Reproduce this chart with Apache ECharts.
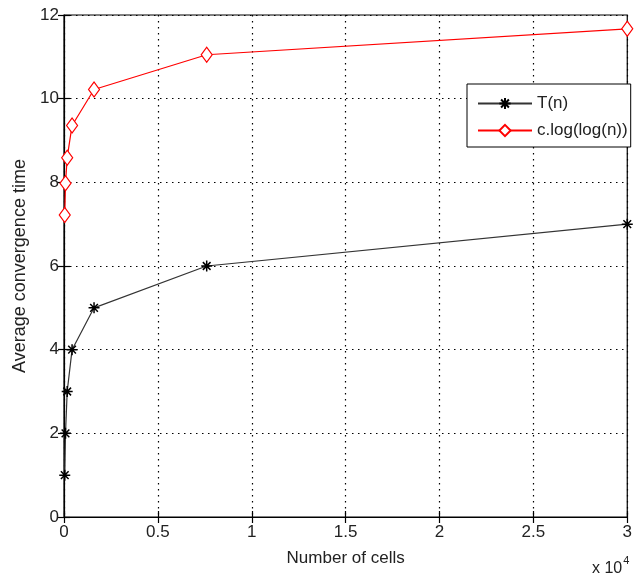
<!DOCTYPE html>
<html><head><meta charset="utf-8">
<script src="https://cdn.jsdelivr.net/npm/echarts@6/dist/echarts.min.js"></script>
<style>html,body{margin:0;padding:0;background:#fff}#c{width:635px;height:578px}</style>
</head><body><div id="c"></div>
<script>
const cells = [0.004, 0.008, 0.017, 0.043, 0.16, 0.76, 3.0]; // x 10^4
const tn = [1, 2, 3, 4, 5, 6, 7];
const cloglog = [7.22, 7.98, 8.59, 9.36, 10.22, 11.05, 11.67];
const xTicks = [0, 0.5, 1, 1.5, 2, 2.5, 3];
const yTicks = [0, 2, 4, 6, 8, 10, 12];
const seriesNames = ['T(n)', 'c.log(log(n))'];

const font = 'Liberation Sans, Arial, sans-serif';
const chart = echarts.init(document.getElementById('c'));
const star = 'path://M0,-6L0,6M-6,0L6,0M-4.2,-4.2L4.2,4.2M-4.2,4.2L4.2,-4.2';
const gridLine = {show: true, lineStyle: {color: '#000', type: [1.5, 4.5], width: 1.2}};
chart.setOption({
  animation: false,
  textStyle: {fontFamily: font},
  grid: {left: 64, right: 2, top: 15, bottom: 61, show: true, borderColor: '#000', borderWidth: 1.2},
  legend: {
    left: 467, top: 84, orient: 'vertical',
    padding: [11, 3, 8, 10], itemWidth: 54, itemHeight: 14, itemGap: 10,
    borderColor: '#000', borderWidth: 1, backgroundColor: '#fff',
    textStyle: {fontSize: 17, color: '#222', fontFamily: font},
    data: seriesNames
  },
  xAxis: [{
    type: 'value', min: 0, max: 3, interval: 0.5,
    name: 'Number of cells', nameLocation: 'middle', nameGap: 33,
    nameTextStyle: {fontSize: 17, color: '#222', fontFamily: font},
    axisLine: {lineStyle: {color: '#000', width: 1.2}},
    axisTick: {inside: true, length: 6, lineStyle: {color: '#000', width: 1.2}},
    axisLabel: {fontSize: 17, color: '#222', margin: 7, fontFamily: font,
      formatter: v => xTicks.includes(v) ? String(v) : ''},
    splitLine: gridLine
  }, {
    type: 'value', min: 0, max: 3, interval: 0.5, position: 'top',
    axisLine: {show: false}, axisLabel: {show: false}, splitLine: {show: false},
    axisTick: {inside: true, length: 6, lineStyle: {color: '#000', width: 1.2}}
  }],
  yAxis: [{
    type: 'value', min: 0, max: 12, interval: 2,
    name: 'Average convergence time', nameLocation: 'middle', nameGap: 34,
    nameTextStyle: {fontSize: 18, color: '#222', fontFamily: font},
    axisLine: {show: true, lineStyle: {color: '#000', width: 1.2}},
    axisTick: {show: true, inside: true, length: 6, lineStyle: {color: '#000', width: 1.2}},
    axisLabel: {fontSize: 17, color: '#222', margin: 5, fontFamily: font,
      formatter: v => yTicks.includes(v) ? String(v) : ''},
    splitLine: gridLine
  }, {
    type: 'value', min: 0, max: 12, interval: 2, position: 'right',
    axisLine: {show: false}, axisLabel: {show: false}, splitLine: {show: false},
    axisTick: {show: true, inside: true, length: 6, lineStyle: {color: '#000', width: 1.2}}
  }],
  series: [{
    name: seriesNames[0], type: 'line',
    data: cells.map((x, i) => [x, tn[i]]),
    symbol: star, symbolSize: 11, showAllSymbol: true,
    lineStyle: {color: '#333', width: 1.2},
    itemStyle: {color: '#000', borderColor: '#000', borderWidth: 1.5},
    clip: false
  }, {
    name: seriesNames[1], type: 'line',
    data: cells.map((x, i) => [x, cloglog[i]]),
    symbol: 'diamond', symbolSize: [11, 15], showAllSymbol: true,
    lineStyle: {color: '#ff0000', width: 1.2},
    itemStyle: {color: '#fff', borderColor: '#ff0000', borderWidth: 1.2},
    clip: false
  }],
  graphic: [{
    type: 'text', left: 592, top: 555,
    style: {
      text: '{a|x 10}{b|4}', fill: '#222',
      rich: {
        a: {fontSize: 16, fontFamily: font, fill: '#222', verticalAlign: 'bottom', lineHeight: 22},
        b: {fontSize: 11, fontFamily: font, fill: '#222', verticalAlign: 'top', lineHeight: 22, padding: [0, 0, 11, 1]}
      }
    }
  }]
});
</script></body></html>
